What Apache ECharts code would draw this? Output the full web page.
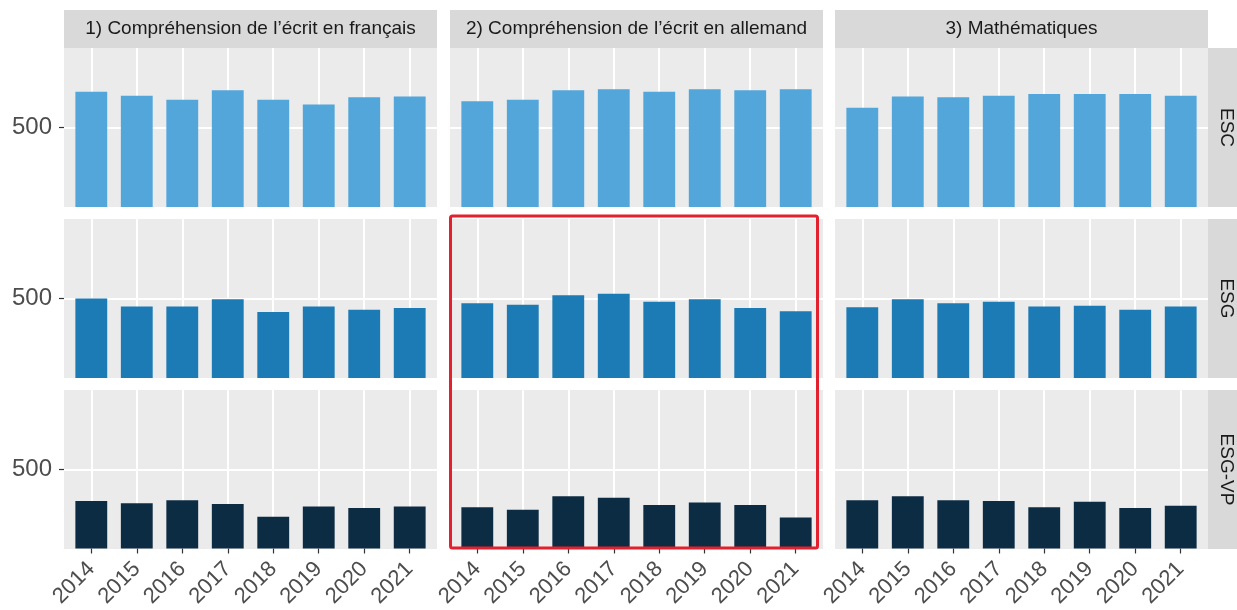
<!DOCTYPE html>
<html>
<head>
<meta charset="utf-8">
<script src="https://cdn.jsdelivr.net/npm/echarts@6/dist/echarts.min.js"></script>
<style>
html, body { margin: 0; padding: 0; background: #fff; }
#chart { width: 1237px; height: 610px; }
</style>
</head>
<body>
<div id="chart"></div>
<script>
// categories
const years = ['2014', '2015', '2016', '2017', '2018', '2019', '2020', '2021'];
const subjects = ['1) Compréhension de l’écrit en français', '2) Compréhension de l’écrit en allemand', '3) Mathématiques'];
const programmes = ['ESC', 'ESG', 'ESG-VP'];
const yTickValues = [500];

// values (y axis 400 - 600)
const escFrancais = [545, 540, 535, 547, 535, 529, 538, 539];
const escAllemand = [533, 535, 547, 548, 545, 548, 547, 548];
const escMaths = [525, 539, 538, 540, 542, 542, 542, 540];
const esgFrancais = [500, 490, 490, 499, 483, 490, 486, 488];
const esgAllemand = [494, 492, 504, 506, 496, 499, 488, 484];
const esgMaths = [489, 499, 494, 496, 490, 491, 486, 490];
const vpFrancais = [460, 457, 461, 456, 440, 453, 451, 453];
const vpAllemand = [452, 449, 466, 464, 455, 458, 455, 439];
const vpMaths = [461, 466, 461, 460, 452, 459, 451, 454];

const rows = [
    [escFrancais, escAllemand, escMaths],
    [esgFrancais, esgAllemand, esgMaths],
    [vpFrancais, vpAllemand, vpMaths]
];
const rowColors = ['#53a6da', '#1c7ab5', '#0c2c44'];

// layout (ggplot facet grid)
const panelLeft = [64, 450, 835];
const panelTop = [48, 219, 390];
const panelW = 373;
const panelH = 159;
const unit = panelW / 8.2;
const inset = unit * 0.6 - unit * 0.5;
const font = 'Liberation Sans, Arial, sans-serif';

let grid = [], xAxis = [], yAxis = [], series = [], graphic = [];

for (let r = 0; r < 3; r++) {
    for (let c = 0; c < 3; c++) {
        // panel background
        graphic.push({
            type: 'rect', z: -10, silent: true,
            shape: { x: panelLeft[c], y: panelTop[r], width: panelW, height: panelH },
            style: { fill: '#ebebeb' }
        });
        // full-width panel: horizontal grid line and y labels
        let bg = grid.length;
        grid.push({ left: panelLeft[c], top: panelTop[r], width: panelW, height: panelH });
        xAxis.push({ type: 'value', gridIndex: bg, show: false, min: 0, max: 1 });
        yAxis.push({
            type: 'value', gridIndex: bg, min: 400, max: 600, interval: 100,
            axisLine: { show: false },
            axisTick: { show: c === 0, customValues: yTickValues, length: 5, lineStyle: { color: '#333', width: 1.2 } },
            axisLabel: { show: c === 0, customValues: yTickValues, fontSize: 24, color: '#4d4d4d', margin: 12, fontFamily: font },
            splitLine: { show: true, lineStyle: { color: '#ffffff', width: 2 } }
        });
        // bars
        let g = grid.length;
        grid.push({ left: panelLeft[c] + inset, top: panelTop[r], width: unit * 8, height: panelH });
        xAxis.push({
            type: 'category', gridIndex: g, data: years,
            axisLine: { show: false },
            axisTick: { show: r === 2, alignWithLabel: true, length: 5, lineStyle: { color: '#333', width: 1.2 } },
            axisLabel: { show: r === 2, rotate: 45, fontSize: 22, color: '#4d4d4d', margin: 17, fontFamily: font, interval: 0 },
            splitLine: { show: true, alignWithLabel: true, lineStyle: { color: '#ffffff', width: 2 } }
        });
        yAxis.push({ type: 'value', gridIndex: g, min: 400, max: 600, show: false, splitLine: { show: false } });
        series.push({
            type: 'bar', xAxisIndex: g, yAxisIndex: g,
            data: rows[r][c], barWidth: '70%',
            itemStyle: { color: rowColors[r] },
            silent: true
        });
    }
}

// strips
subjects.forEach((s, c) => {
    graphic.push({
        type: 'group', children: [
            { type: 'rect', shape: { x: panelLeft[c], y: 10, width: panelW, height: 38 }, style: { fill: '#d9d9d9' } },
            { type: 'text', x: panelLeft[c] + panelW / 2, y: 29,
              style: { text: s, fill: '#1a1a1a', font: '19px ' + font, textAlign: 'center', textVerticalAlign: 'middle' } }
        ]
    });
});
programmes.forEach((p, r) => {
    graphic.push({
        type: 'group', children: [
            { type: 'rect', shape: { x: 1208, y: panelTop[r], width: 40, height: panelH }, style: { fill: '#d9d9d9' } },
            { type: 'text', x: 1226, y: panelTop[r] + panelH / 2, rotation: -Math.PI / 2,
              style: { text: p, fill: '#1a1a1a', font: '19px ' + font, textAlign: 'center', textVerticalAlign: 'middle' } }
        ]
    });
});
// red highlight frame
graphic.push({
    type: 'rect', z: 100,
    shape: { x: 450.5, y: 216, width: 367, height: 332, r: 2 },
    style: { fill: null, stroke: '#e3202d', lineWidth: 3 }
});

const chart = echarts.init(document.getElementById('chart'));
chart.setOption({
    animation: false,
    backgroundColor: '#fff',
    grid: grid,
    xAxis: xAxis,
    yAxis: yAxis,
    series: series,
    graphic: graphic
});
</script>
</body>
</html>
